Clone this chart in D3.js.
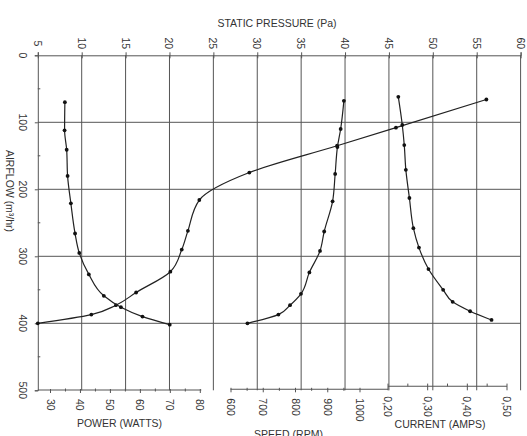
<!DOCTYPE html>
<html>
<head>
<meta charset="utf-8">
<script src="https://cdn.jsdelivr.net/npm/d3@7"></script>
<style>
  html, body { margin: 0; padding: 0; background: #fff; }
  svg { display: block; }
  text { font-family: "Liberation Sans", Arial, sans-serif; fill: #333; }
</style>
</head>
<body>
<svg id="chart" width="527" height="436"></svg>
<script>
// ---- data ----
const airflowTicks = [0, 100, 200, 300, 400, 500];
const airflowMinor = [50, 150, 250, 350, 450];
const pressureTicks = [5, 10, 15, 20, 25, 30, 35, 40, 45, 50, 55, 60];
const powerTicks = [30, 40, 50, 60, 70, 80];
const powerMinor = [35, 45, 55, 65, 75];
const speedTicks = [600, 700, 800, 900, 1000];
const speedMinor = [650, 750, 850, 950];
const currentTicks = [0.20, 0.30, 0.40, 0.50];
const currentMinor = [0.25, 0.35, 0.45];
const currentLabels = ["0,20", "0,30", "0,40", "0,50"];

const pressureAirflow = [66, 108, 135, 175, 216, 262, 290, 323, 354, 373, 387, 400];
const pressureValues  = [56.1, 45.8, 39.1, 29.1, 23.4, 22.1, 21.4, 20.1, 16.2, 13.9, 11.1, 5.0];

const powerAirflow = [70, 112, 141, 180, 221, 266, 295, 327, 359, 376, 390, 402];
const powerValues  = [34.8, 34.7, 35.4, 35.7, 36.8, 38.2, 39.6, 42.8, 47.8, 53.5, 60.7, 69.8];

const speedAirflow = [68, 110, 137, 177, 218, 263, 292, 324, 356, 373, 387, 400];
const speedValues  = [950, 940, 930, 923, 915, 889, 876, 843, 817, 783, 747, 651];

const currentAirflow = [62, 104, 134, 171, 213, 258, 287, 319, 350, 368, 382, 395];
const currentValues  = [0.226, 0.236, 0.241, 0.245, 0.254, 0.264, 0.278, 0.302, 0.339, 0.363, 0.407, 0.461];

// ---- scales ----
const y  = d3.scaleLinear().domain([0, 500]).range([55.3, 390.3]);
const xP = d3.scaleLinear().domain([5, 60]).range([37.8, 520.6]);
const xW = d3.scaleLinear().domain([30, 80]).range([50.5, 200.3]);
const xS = d3.scaleLinear().domain([600, 1000]).range([231, 360]);
const xC = d3.scaleLinear().domain([0.2, 0.5]).range([388, 507]);

const svg = d3.select("#chart");
const gridColor = "#555";
const lineColor = "#222";
const fs = 10.5;

// ---- grid ----
const grid = svg.append("g");
grid.selectAll("line.v").data(pressureTicks.slice(1, -1)).join("line")
  .attr("x1", d => xP(d)).attr("x2", d => xP(d))
  .attr("y1", y(0)).attr("y2", y(500))
  .attr("stroke", gridColor).attr("stroke-width", 1);
grid.selectAll("line.h").data(airflowTicks.slice(1, -1)).join("line")
  .attr("x1", xP(5)).attr("x2", xP(60))
  .attr("y1", d => y(d)).attr("y2", d => y(d))
  .attr("stroke", gridColor).attr("stroke-width", 1);
// right border
grid.append("line").attr("x1", xP(60)).attr("x2", xP(60)).attr("y1", y(0)).attr("y2", y(500))
  .attr("stroke", gridColor).attr("stroke-width", 1);

// ---- top axis (static pressure) ----
const topAxis = svg.append("g").attr("transform", `translate(0,${y(0)})`)
  .call(d3.axisTop(xP).tickValues(pressureTicks).tickSize(3).tickFormat(""));
topAxis.select(".domain").attr("stroke", gridColor);
topAxis.selectAll(".tick line").attr("y1", 3).attr("y2", -3).attr("stroke", gridColor);
topAxis.selectAll("text.lbl").data(pressureTicks).join("text").attr("class", "lbl")
  .attr("transform", d => `translate(${xP(d)},-12) rotate(90)`)
  .attr("text-anchor", "middle").attr("dominant-baseline", "central")
  .attr("font-size", fs).text(d => d);
svg.append("text").attr("x", 277).attr("y", 27).attr("text-anchor", "middle")
  .attr("font-size", fs).text("STATIC PRESSURE (Pa)");

// ---- left axis (airflow) ----
const leftAxis = svg.append("g").attr("transform", `translate(${xP(5)},0)`)
  .call(d3.axisLeft(y).tickValues(airflowTicks).tickSize(3).tickFormat(""));
leftAxis.select(".domain").attr("stroke", gridColor);
leftAxis.selectAll(".tick line").attr("stroke", gridColor);
leftAxis.selectAll("line.minor").data(airflowMinor).join("line").attr("class", "minor")
  .attr("x1", 0).attr("x2", 2.5).attr("y1", d => y(d)).attr("y2", d => y(d))
  .attr("stroke", gridColor);
leftAxis.selectAll("text.lbl").data(airflowTicks).join("text").attr("class", "lbl")
  .attr("transform", d => `translate(-15,${y(d)}) rotate(90)`)
  .attr("text-anchor", "middle").attr("dominant-baseline", "central")
  .attr("font-size", fs).text(d => d);
svg.append("text").attr("transform", `translate(10,191) rotate(90)`)
  .attr("text-anchor", "middle").attr("dominant-baseline", "central")
  .attr("font-size", fs).text("AIRFLOW (m³/hr)");

// ---- bottom axes ----
function bottomAxis(scale, ticks, minor, labels, yPos, lineFrom, lineTo, title, titleX, titleY, opts) {
  const g = svg.append("g").attr("transform", `translate(0,${yPos})`);
  g.append("line").attr("x1", lineFrom).attr("x2", lineTo).attr("y1", 0).attr("y2", 0)
    .attr("stroke", gridColor).attr("stroke-width", 1.1);
  g.selectAll("line.maj").data(ticks).join("line").attr("class", "maj")
    .attr("x1", d => scale(d)).attr("x2", d => scale(d))
    .attr("y1", opts.majUp).attr("y2", opts.majDown).attr("stroke", gridColor);
  g.selectAll("line.min").data(minor).join("line").attr("class", "min")
    .attr("x1", d => scale(d)).attr("x2", d => scale(d))
    .attr("y1", opts.minUp).attr("y2", opts.minDown).attr("stroke", gridColor);
  g.selectAll("text.lbl").data(ticks).join("text").attr("class", "lbl")
    .attr("transform", d => `translate(${scale(d)},${opts.labelY}) rotate(90)`)
    .attr("text-anchor", "start").attr("dominant-baseline", "central")
    .attr("font-size", fs).text((d, i) => labels ? labels[i] : d);
  svg.append("text").attr("x", titleX).attr("y", titleY).attr("text-anchor", "middle")
    .attr("font-size", fs).text(title);
}
bottomAxis(xW, powerTicks, powerMinor, null, 390, xP(5), xW(80) + 1,
  "POWER (WATTS)", 119.5, 427, {majUp: -1, majDown: 3, minUp: -1.5, minDown: 1.5, labelY: 9});
bottomAxis(xS, speedTicks, speedMinor, null, 389.3, xS(600) - 0.5, xC(0.2),
  "SPEED (RPM)", 288.5, 438, {majUp: -1.5, majDown: 3, minUp: -1.5, minDown: 1.5, labelY: 9});
bottomAxis(xC, currentTicks, currentMinor, currentLabels, 386.3, xC(0.2), xC(0.5),
  "CURRENT (AMPS)", 440, 428, {majUp: -2.7, majDown: 4, minUp: -2.7, minDown: 0, labelY: 10});

// ---- curves ----
function series(xScale, values, airflow) {
  const pts = values.map((v, i) => [xScale(v), y(airflow[i])]);
  const line = d3.line().curve(d3.curveMonotoneY);
  svg.append("path").attr("d", line(pts)).attr("fill", "none")
    .attr("stroke", lineColor).attr("stroke-width", 1.2);
  svg.append("g").selectAll("circle").data(pts).join("circle")
    .attr("cx", d => d[0]).attr("cy", d => d[1]).attr("r", 1.9).attr("fill", "#111");
}
series(xP, pressureValues, pressureAirflow);
series(xW, powerValues, powerAirflow);
series(xS, speedValues, speedAirflow);
series(xC, currentValues, currentAirflow);
</script>
</body>
</html>
